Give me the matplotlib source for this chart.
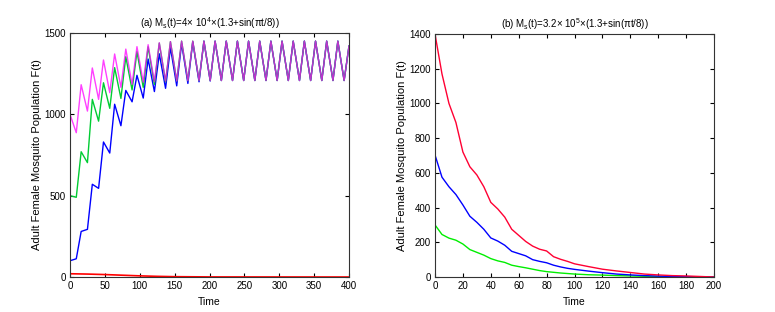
import matplotlib
matplotlib.use("Agg")
from matplotlib import pyplot as plt

plt.rcParams['font.family'] = ['Liberation Sans', 'DejaVu Sans']
plt.rcParams['mathtext.fontset'] = 'custom'
plt.rcParams['mathtext.rm'] = 'Liberation Sans'
plt.rcParams['mathtext.it'] = 'Liberation Sans'

# ---- panel (a): transient part (peaks / troughs)
t_a = [0, 9, 16, 25, 32, 41, 48, 57, 64, 73, 80, 89, 96, 105, 112, 121,
       128, 137, 144, 153, 160, 169, 176, 185, 192, 201]
magenta_a = [1000, 887, 1182, 1020, 1285, 1092, 1334, 1133, 1371, 1166, 1401,
             1184, 1416, 1197, 1428, 1200, 1440, 1204, 1447, 1205, 1450, 1207,
             1450, 1208, 1450, 1208]
green_a = [500, 490, 770, 703, 1092, 958, 1194, 1037, 1287, 1098, 1354, 1150,
           1385, 1166, 1415, 1184, 1438, 1200, 1447, 1205, 1450, 1207, 1450,
           1208, 1450, 1208]
blue_a = [100, 112, 280, 293, 570, 545, 830, 762, 1062, 930, 1147, 1077, 1240,
          1100, 1340, 1140, 1372, 1160, 1410, 1175, 1435, 1190, 1445, 1200,
          1450, 1205]

# steady oscillation shared by all three curves after t~200
t_steady = [208, 217, 224, 233, 240, 249, 256, 265, 272, 281, 288, 297, 304,
            313, 320, 329, 336, 345, 352, 361, 368, 377, 384, 393, 400]
steady = [1450, 1208, 1450, 1208, 1450, 1208, 1450, 1208, 1450, 1208, 1450,
          1208, 1450, 1208, 1450, 1208, 1450, 1208, 1450, 1208, 1450, 1208,
          1450, 1208, 1420]

t_red_a = [0, 25, 50, 75, 100, 125, 150, 200, 400]
red_a = [20, 18, 15, 11, 7, 4, 2, 0.5, 0]

# ---- panel (b)
t_b = [0, 5, 10, 15, 20, 25, 30, 35, 40, 45, 50, 55, 60, 65, 70, 75, 80, 85,
       90, 95, 100, 110, 120, 130, 140, 150, 160, 170, 180, 190, 200]
red_b = [1400, 1170, 1000, 890, 720, 635, 588, 520, 430, 392, 345, 275, 240,
         205, 178, 160, 150, 117, 102, 90, 76, 60, 45, 35, 26, 17, 12, 8, 6, 3, 0]
blue_b = [703, 575, 520, 475, 415, 350, 315, 275, 225, 207, 183, 148, 135, 122,
          100, 90, 82, 68, 58, 50, 44, 34, 25, 17, 12, 8, 5, 3, 2, 1, 0]
green_b = [300, 245, 224, 212, 190, 158, 142, 126, 106, 93, 84, 68, 60, 53, 45,
           37, 31, 27, 23, 20, 17, 13, 11, 8, 6, 4, 3, 2, 1, 0.5, 0]

fig = plt.figure(figsize=(7.75, 3.12), dpi=100)
ax1 = fig.add_axes([70/775, 35/312, 279/775, 244/312])
ax2 = fig.add_axes([435/775, 35/312, 279/775, 243/312])

ax1.plot(t_a + t_steady, blue_a + steady, color='#0000ff', lw=1.0)
ax1.plot(t_a + t_steady, green_a + steady, color='#00cc33', lw=1.0)
ax1.plot(t_a + t_steady, magenta_a + steady, color='#ff00ff', lw=1.0,
         alpha=0.75, solid_joinstyle='round')
ax1.plot(t_red_a, red_a, color='#ff0000', lw=1.2)
ax1.set_xlim(0, 400)
ax1.set_ylim(0, 1500)
ax1.set_xticks(range(0, 401, 50))
ax1.set_yticks([0, 500, 1000, 1500])
ax1.set_title('(a) M$_s$(t)=4× 10$^4$×(1.3+sin(πt/8))', fontsize=7, pad=4)

ax2.plot(t_b, green_b, color='#00ee00', lw=1.0)
ax2.plot(t_b, blue_b, color='#0000ff', lw=1.0)
ax2.plot(t_b, red_b, color='#ff0033', lw=1.0)
ax2.set_xlim(0, 200)
ax2.set_ylim(0, 1400)
ax2.set_xticks(range(0, 201, 20))
ax2.set_yticks(range(0, 1401, 200))
ax2.set_title('(b) M$_s$(t)=3.2× 10$^5$×(1.3+sin(πt/8))', fontsize=7, pad=4)

for ax in (ax1, ax2):
    ax.tick_params(direction='in', top=True, right=True, length=3,
                   labelsize=7, pad=3)
    ax.set_xlabel('Time', fontsize=7.5, labelpad=4)
    ax.set_ylabel('Adult Female Mosquito Population F(t)', fontsize=8,
                  labelpad=2)
    for s in ax.spines.values():
        s.set_color('#333333')
        s.set_linewidth(0.8)

fig.savefig('out.png', dpi=100)
